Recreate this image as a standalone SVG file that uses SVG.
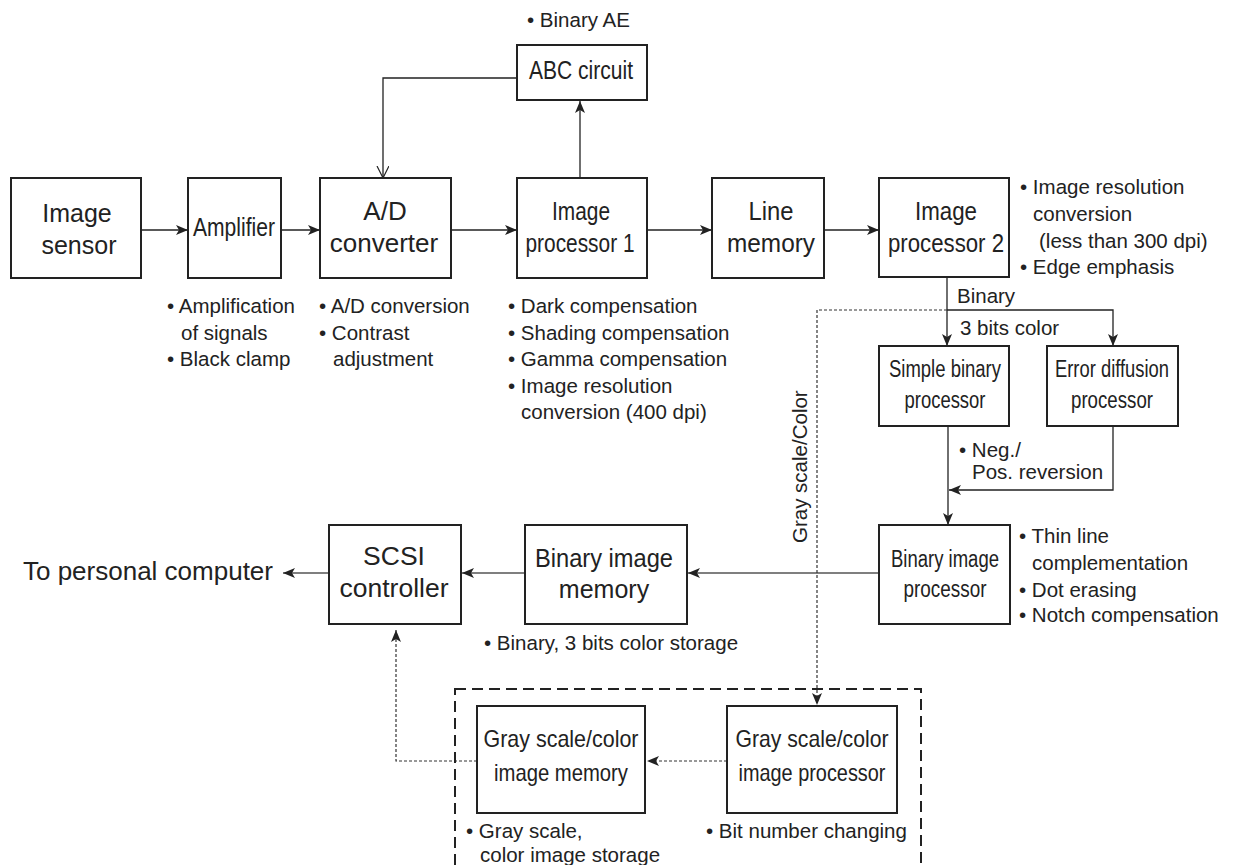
<svg xmlns="http://www.w3.org/2000/svg" width="1239" height="865" viewBox="0 0 1239 865">
<style>
.box{fill:#fff;stroke:#222;stroke-width:2}
.ln{fill:none;stroke:#222;stroke-width:1.3}
.gl{fill:none;stroke:#555;stroke-width:1.5}
.dt{fill:none;stroke:#333;stroke-width:1.2;stroke-dasharray:3 2}
.dash{fill:none;stroke:#222;stroke-width:2;stroke-dasharray:11 6}
text{font-family:"Liberation Sans",Arial,sans-serif;fill:#222}
.lb{font-size:25px;text-anchor:middle}
.nt{font-size:20.5px}
</style>
<defs>
<marker id="a" markerUnits="userSpaceOnUse" markerWidth="14" markerHeight="12" refX="12" refY="5" orient="auto">
<path d="M0,0 L12,5 L0,10 L3,5 z" fill="#222"/>
</marker>
<marker id="o" markerUnits="userSpaceOnUse" markerWidth="14" markerHeight="14" refX="12" refY="6" orient="auto">
<path d="M0,0 L12,6 L0,12" fill="none" stroke="#222" stroke-width="1.2"/>
</marker>
</defs>

<g id="connectors">
<line class="ln" x1="141" y1="230" x2="188" y2="230" marker-end="url(#a)"/>
<line class="ln" x1="281" y1="230" x2="320" y2="230" marker-end="url(#a)"/>
<line class="ln" x1="451" y1="230" x2="517" y2="230" marker-end="url(#a)"/>
<line class="ln" x1="647" y1="230" x2="712" y2="230" marker-end="url(#a)"/>
<line class="ln" x1="824" y1="230" x2="879" y2="230" marker-end="url(#a)"/>
<line class="ln" x1="580" y1="178" x2="580" y2="101" marker-end="url(#a)"/>
<polyline class="ln" points="517,78 383,78 383,178" marker-end="url(#o)"/>
<line class="ln" x1="947" y1="277" x2="947" y2="346" marker-end="url(#a)"/>
<polyline class="ln" points="947,310 1113,310 1113,346" marker-end="url(#a)"/>
<line class="ln" x1="948" y1="426" x2="948" y2="525" marker-end="url(#a)"/>
<polyline class="ln" points="1113,426 1113,490 949,490" marker-end="url(#a)"/>
<line class="gl" x1="879" y1="573" x2="688" y2="573" marker-end="url(#a)"/>
<line class="gl" x1="525" y1="573" x2="462" y2="573" marker-end="url(#a)"/>
<line class="gl" x1="329" y1="573" x2="283" y2="573" marker-end="url(#a)"/>
<polyline class="dt" points="947,310 817,310 817,705" marker-end="url(#a)"/>
<line class="dt" x1="727" y1="761" x2="647" y2="761" marker-end="url(#a)"/>
<polyline class="dt" points="477,761 396,761 396,630" marker-end="url(#a)"/>
</g>

<g id="group-grayscale">
<rect class="dash" x="455" y="689" width="466" height="200"/>
</g>

<g id="image-sensor">
<rect class="box" x="11" y="178" width="130" height="100"/>
<text class="lb" x="77" y="222">Image</text>
<text class="lb" x="79" y="254">sensor</text>
</g>

<g id="amplifier">
<rect class="box" x="188" y="178" width="93" height="100"/>
<text class="lb" x="234" y="236" textLength="82" lengthAdjust="spacingAndGlyphs">Amplifier</text>
<text class="nt" x="167" y="313">• Amplification</text>
<text class="nt" x="181" y="339.5">of signals</text>
<text class="nt" x="167" y="366">• Black clamp</text>
</g>

<g id="ad-converter">
<rect class="box" x="320" y="178" width="131" height="100"/>
<text class="lb" x="385" y="220" style="font-size:26px">A/D</text>
<text class="lb" x="384" y="252" style="font-size:26px">converter</text>
<text class="nt" x="319" y="313">• A/D conversion</text>
<text class="nt" x="319" y="339.5">• Contrast</text>
<text class="nt" x="333" y="366">adjustment</text>
</g>

<g id="abc-circuit">
<rect class="box" x="517" y="45" width="130" height="55"/>
<text class="lb" x="581" y="79" textLength="104" lengthAdjust="spacingAndGlyphs">ABC circuit</text>
<text class="nt" x="527" y="27">• Binary AE</text>
</g>

<g id="image-processor-1">
<rect class="box" x="517" y="178" width="130" height="100"/>
<text class="lb" x="581" y="220" textLength="58" lengthAdjust="spacingAndGlyphs">Image</text>
<text class="lb" x="580" y="252" textLength="109" lengthAdjust="spacingAndGlyphs">processor 1</text>
<text class="nt" x="508" y="313">• Dark compensation</text>
<text class="nt" x="508" y="339.5">• Shading compensation</text>
<text class="nt" x="508" y="366">• Gamma compensation</text>
<text class="nt" x="508" y="392.5">• Image resolution</text>
<text class="nt" x="521" y="419">conversion (400 dpi)</text>
</g>

<g id="line-memory">
<rect class="box" x="712" y="178" width="112" height="100"/>
<text class="lb" x="771" y="220" textLength="45" lengthAdjust="spacingAndGlyphs">Line</text>
<text class="lb" x="771" y="252" textLength="88" lengthAdjust="spacingAndGlyphs">memory</text>
</g>

<g id="image-processor-2">
<rect class="box" x="879" y="178" width="130" height="99"/>
<text class="lb" x="946" y="220" textLength="62" lengthAdjust="spacingAndGlyphs">Image</text>
<text class="lb" x="946" y="252" textLength="116" lengthAdjust="spacingAndGlyphs">processor 2</text>
<text class="nt" x="1020" y="194">• Image resolution</text>
<text class="nt" x="1033" y="221">conversion</text>
<text class="nt" x="1039" y="248">(less than 300 dpi)</text>
<text class="nt" x="1020" y="274">• Edge emphasis</text>
<text class="nt" x="957" y="303">Binary</text>
<text class="nt" x="960" y="335">3 bits color</text>
</g>

<g id="simple-binary-processor">
<rect class="box" x="879" y="346" width="130" height="80"/>
<text class="lb" x="945" y="377" style="font-size:23px" textLength="112" lengthAdjust="spacingAndGlyphs">Simple binary</text>
<text class="lb" x="945" y="408" style="font-size:23px" textLength="81" lengthAdjust="spacingAndGlyphs">processor</text>
<text class="nt" x="959" y="457">• Neg./</text>
<text class="nt" x="972" y="479">Pos. reversion</text>
</g>

<g id="error-diffusion-processor">
<rect class="box" x="1047" y="346" width="131" height="80"/>
<text class="lb" x="1112" y="377" style="font-size:23px" textLength="114" lengthAdjust="spacingAndGlyphs">Error diffusion</text>
<text class="lb" x="1112" y="408" style="font-size:23px" textLength="82" lengthAdjust="spacingAndGlyphs">processor</text>
</g>

<g id="binary-image-processor">
<rect class="box" x="879" y="525" width="131" height="99"/>
<text class="lb" x="945" y="567" style="font-size:23px" textLength="108" lengthAdjust="spacingAndGlyphs">Binary image</text>
<text class="lb" x="945" y="597" style="font-size:23px" textLength="83" lengthAdjust="spacingAndGlyphs">processor</text>
<text class="nt" x="1019" y="543">• Thin line</text>
<text class="nt" x="1032" y="570">complementation</text>
<text class="nt" x="1019" y="597">• Dot erasing</text>
<text class="nt" x="1019" y="622">• Notch compensation</text>
</g>

<g id="binary-image-memory">
<rect class="box" x="525" y="525" width="162" height="99"/>
<text class="lb" x="604" y="567" textLength="138" lengthAdjust="spacingAndGlyphs">Binary image</text>
<text class="lb" x="604" y="598">memory</text>
<text class="nt" x="484" y="650">• Binary, 3 bits color storage</text>
</g>

<g id="scsi-controller">
<rect class="box" x="329" y="525" width="132" height="99"/>
<text class="lb" x="394" y="565" style="font-size:26.5px">SCSI</text>
<text class="lb" x="394" y="597" style="font-size:26.5px">controller</text>
</g>

<g id="to-pc">
<text x="273" y="580" style="font-size:26px;text-anchor:end">To personal computer</text>
</g>

<g id="gray-label">
<text x="807" y="543" transform="rotate(-90 807 543)" style="font-size:20.5px">Gray scale/Color</text>
</g>

<g id="gray-color-image-memory">
<rect class="box" x="477" y="706" width="168" height="107"/>
<text class="lb" x="561" y="747" style="font-size:24px" textLength="155" lengthAdjust="spacingAndGlyphs">Gray scale/color</text>
<text class="lb" x="561" y="781" style="font-size:24px" textLength="134" lengthAdjust="spacingAndGlyphs">image memory</text>
<text class="nt" x="466" y="838">• Gray scale,</text>
<text class="nt" x="480" y="862">color image storage</text>
</g>

<g id="gray-color-image-processor">
<rect class="box" x="727" y="706" width="170" height="107"/>
<text class="lb" x="812" y="747" style="font-size:24px" textLength="153" lengthAdjust="spacingAndGlyphs">Gray scale/color</text>
<text class="lb" x="812" y="781" style="font-size:24px" textLength="147" lengthAdjust="spacingAndGlyphs">image processor</text>
<text class="nt" x="706" y="838">• Bit number changing</text>
</g>
</svg>
